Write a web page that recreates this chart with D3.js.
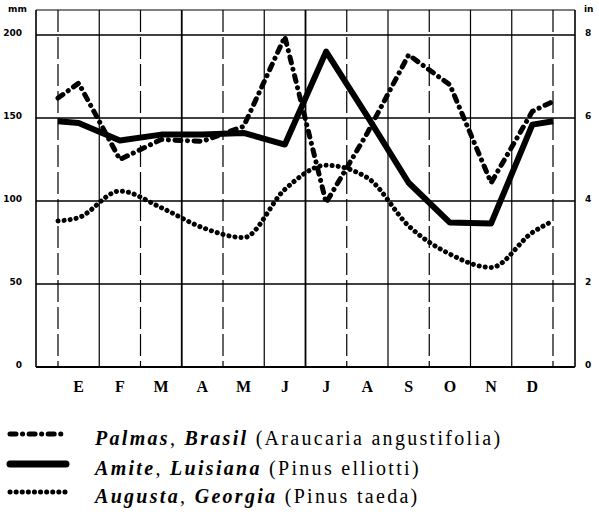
<!DOCTYPE html>
<html>
<head>
<meta charset="utf-8">
<script src="https://cdn.jsdelivr.net/npm/d3@7"></script>
<style>
  body { margin: 0; background: #fff; }
  svg { display: block; }
  .num text { font-family: "DejaVu Sans", sans-serif; font-size: 9px; font-weight: bold; fill: #000; }
  .unit { font-family: "DejaVu Sans", sans-serif; font-size: 9px; font-weight: bold; }
  .mon text { font-family: "Liberation Serif", serif; font-size: 16px; font-weight: bold; fill: #000; }
</style>
</head>
<body>
<svg id="chart" width="599" height="516"></svg>
<script>
// DATA
var months = ["E", "F", "M", "A", "M", "J", "J", "A", "S", "O", "N", "D"];
var mmTicks = [0, 50, 100, 150, 200];
var inTicks = [0, 2, 4, 6, 8];

// first value sits on the left grid line, then the 12 months, last on the right grid line
var palmas  = [162, 171, 125, 137, 136, 145, 199, 99, 141, 188, 170, 111, 154, 160];
var amite   = [148, 147, 136.5, 140, 140, 141, 134, 190, 151, 111, 87, 86.5, 146, 148];
var augusta = [88, 90, 106, 96, 84, 78, 107, 121.5, 114, 85, 68, 60, 81, 88];

var legendPlaces = [["Palmas", "Brasil"], ["Amite", "Luisiana"], ["Augusta", "Georgia"]];
var legendSpecies = ["(Araucaria angustifolia)", "(Pinus elliotti)", "(Pinus taeda)"];

// SCALES
var svg = d3.select("#chart");
var frame = {left: 36, right: 575, top: 10, bottom: 367};

var x = d3.scaleLinear().domain([0, 12]).range([58, 553]);
var band = d3.scaleBand().domain(d3.range(12)).range([58, 553]);
var y = d3.scaleLinear().domain([0, 200]).range([367, 35]);
var yIn = d3.scaleLinear().domain([0, 8]).range([367, 35]);

var xPos = [0].concat(months.map(function(m, i) { return i + 0.5; })).concat([12]);

// GRID
var solidCols = [1, 3, 5, 6, 8, 10, 11];
svg.append("g").selectAll("line")
    .data(d3.range(13))
  .enter().append("line")
    .attr("x1", function(d) { return x(d); })
    .attr("x2", function(d) { return x(d); })
    .attr("y1", frame.top)
    .attr("y2", frame.bottom)
    .attr("stroke", "#000")
    .attr("stroke-width", function(d) { return d === 6 || d === 3 ? 1.8 : 1.2; })
    .attr("stroke-dasharray", function(d) { return solidCols.indexOf(d) >= 0 ? null : "22,5"; });

svg.append("g").selectAll("line")
    .data(mmTicks.filter(function(d) { return d > 0; }))
  .enter().append("line")
    .attr("x1", frame.left)
    .attr("x2", frame.right)
    .attr("y1", function(d) { return y(d); })
    .attr("y2", function(d) { return y(d); })
    .attr("stroke", "#000")
    .attr("stroke-width", 1.6);

// frame
svg.append("line").attr("x1", frame.left).attr("x2", frame.right).attr("y1", frame.top).attr("y2", frame.top)
    .attr("stroke", "#000").attr("stroke-width", 1.2);
svg.append("line").attr("x1", frame.left).attr("x2", frame.right).attr("y1", frame.bottom).attr("y2", frame.bottom)
    .attr("stroke", "#000").attr("stroke-width", 2);
svg.append("line").attr("x1", frame.left).attr("x2", frame.left).attr("y1", frame.top).attr("y2", frame.bottom)
    .attr("stroke", "#000").attr("stroke-width", 1.6);
svg.append("line").attr("x1", frame.right).attr("x2", frame.right).attr("y1", frame.top).attr("y2", frame.bottom)
    .attr("stroke", "#000").attr("stroke-width", 1.6);

// AXES
var leftAxis = svg.append("g")
    .attr("class", "num")
    .attr("transform", "translate(" + frame.left + ",0)")
    .call(d3.axisLeft(y).tickValues(mmTicks).tickSize(0).tickPadding(14));
leftAxis.select(".domain").remove();
leftAxis.selectAll("text").attr("dy", "0");

var rightAxis = svg.append("g")
    .attr("class", "num")
    .attr("transform", "translate(" + frame.right + ",0)")
    .call(d3.axisRight(yIn).tickValues(inTicks).tickSize(0).tickPadding(10));
rightAxis.select(".domain").remove();
rightAxis.selectAll("text").attr("dy", "0");

svg.append("text").attr("class", "unit").attr("x", 8).attr("y", 12).text("mm");
svg.append("text").attr("class", "unit").attr("x", 584).attr("y", 12).text("in");

var bottomAxis = svg.append("g")
    .attr("class", "mon")
    .attr("transform", "translate(0," + frame.bottom + ")")
    .call(d3.axisBottom(band).tickSize(0).tickPadding(14).tickFormat(function(i) { return months[i]; }));
bottomAxis.select(".domain").remove();

// LINES
var line = d3.line()
    .x(function(d, i) { return x(xPos[i]); })
    .y(function(d) { return y(d); });

var smooth = d3.line()
    .x(function(d, i) { return x(xPos[i]); })
    .y(function(d) { return y(d); })
    .curve(d3.curveMonotoneX);

var styles = [
    {width: 5, dash: "6,6.5,0.1,6.5", cap: "round"},
    {width: 6, dash: null, cap: "butt"},
    {width: 5, dash: "0.1,6", cap: "round"}
];

svg.append("path")
    .datum(palmas)
    .attr("d", line)
    .attr("fill", "none").attr("stroke", "#000")
    .attr("stroke-width", styles[0].width)
    .attr("stroke-dasharray", styles[0].dash)
    .attr("stroke-linecap", styles[0].cap)
    .attr("stroke-linejoin", "round");

svg.append("path")
    .datum(amite)
    .attr("d", line)
    .attr("fill", "none").attr("stroke", "#000")
    .attr("stroke-width", styles[1].width)
    .attr("stroke-linejoin", "round");

svg.append("path")
    .datum(augusta)
    .attr("d", smooth)
    .attr("fill", "none").attr("stroke", "#000")
    .attr("stroke-width", styles[2].width)
    .attr("stroke-dasharray", styles[2].dash)
    .attr("stroke-linecap", styles[2].cap);

// LEGEND
var legY = [434, 464, 492];
var legend = svg.selectAll(".legend")
    .data(legendSpecies)
  .enter().append("g")
    .attr("class", "legend");

legend.append("line")
    .attr("x1", 10).attr("x2", 66)
    .attr("y1", function(d, i) { return legY[i]; })
    .attr("y2", function(d, i) { return legY[i]; })
    .attr("stroke", "#000")
    .attr("stroke-width", function(d, i) { return i === 1 ? 7 : styles[i].width; })
    .attr("stroke-dasharray", function(d, i) { return styles[i].dash; })
    .attr("stroke-linecap", function(d, i) { return i === 1 ? "round" : styles[i].cap; });

var txt = legend.append("text")
    .attr("x", 95)
    .attr("y", function(d, i) { return legY[i] + 11; })
    .attr("font-family", "'Liberation Serif', serif")
    .attr("font-size", 20)
    .attr("letter-spacing", 2.3)
    .attr("fill", "#000");

txt.append("tspan").attr("font-style", "italic").attr("font-weight", "bold")
    .text(function(d, i) { return legendPlaces[i][0]; });
txt.append("tspan").text(", ");
txt.append("tspan").attr("font-style", "italic").attr("font-weight", "bold")
    .text(function(d, i) { return legendPlaces[i][1]; });
txt.append("tspan").text(function(d) { return " " + d; });
</script>
</body>
</html>
